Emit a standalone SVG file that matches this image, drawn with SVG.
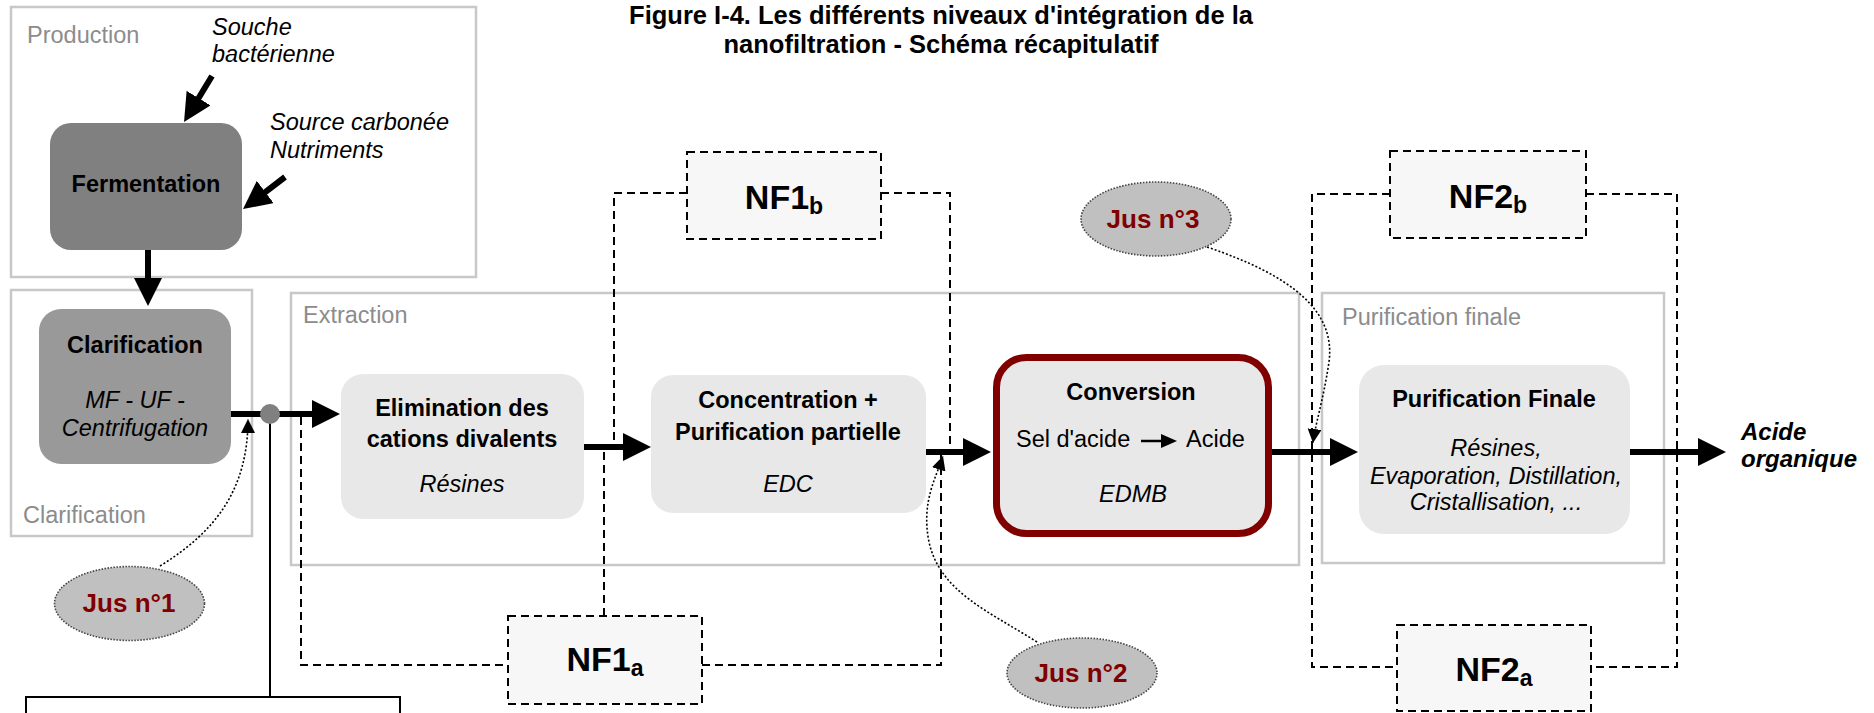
<svg xmlns="http://www.w3.org/2000/svg" width="1874" height="713" viewBox="0 0 1874 713">
<defs>
<style>
text{font-family:"Liberation Sans",Arial,sans-serif;fill:#000}
.t{font-size:23.5px}
.b{font-weight:bold}
.i{font-style:italic}
.lbl{font-size:23.5px;fill:#8c8c8c}
.frame{fill:#fff;stroke:#c8c8c8;stroke-width:2.5}
.box{fill:#e8e8e8}
.nf{fill:#f7f7f7;stroke:#000;stroke-width:2;stroke-dasharray:8 5}
.nft{font-size:34px;font-weight:bold}
.dash{fill:none;stroke:#000;stroke-width:2;stroke-dasharray:8 5}
.flow{fill:none;stroke:#000;stroke-width:6}
.dot{fill:none;stroke:#000;stroke-width:1.6;stroke-dasharray:2 2}
.jus{fill:#c0c0c0;stroke:#444;stroke-width:1.6;stroke-dasharray:1.5 1.5}
.jt{font-size:26px;font-weight:bold;fill:#800000}
.ttl{font-size:25.5px;font-weight:bold}
</style>
<marker id="ah" markerUnits="userSpaceOnUse" markerWidth="28" markerHeight="28" refX="20" refY="14" orient="auto"><path d="M0,0 L28,14 L0,28 z" fill="#000"/></marker>
<marker id="sh" markerUnits="userSpaceOnUse" markerWidth="14" markerHeight="14" refX="14" refY="7" orient="auto"><path d="M0,0 L14,7 L0,14 z" fill="#000"/></marker>
<marker id="mh" markerUnits="userSpaceOnUse" markerWidth="16" markerHeight="14" refX="12" refY="7" orient="auto"><path d="M0,0 L16,7 L0,14 z" fill="#000"/></marker>
</defs>
<rect width="1874" height="713" fill="#fff"/>

<g id="title">
<text class="ttl" x="941" y="24" text-anchor="middle">Figure I-4. Les différents niveaux d'intégration de la</text>
<text class="ttl" x="941" y="52.5" text-anchor="middle">nanofiltration - Schéma récapitulatif</text>
</g>

<g id="frames">
<g id="frame-production"><rect class="frame" x="11" y="7" width="465" height="270"/><text class="lbl" x="27" y="43">Production</text></g>
<g id="frame-clarification"><rect class="frame" x="11" y="290" width="241" height="246"/><text class="lbl" x="23" y="523">Clarification</text></g>
<g id="frame-extraction"><rect class="frame" x="291" y="293" width="1008" height="272"/><text class="lbl" x="303" y="323">Extraction</text></g>
<g id="frame-purification"><rect class="frame" x="1322" y="293" width="342" height="270"/><text class="lbl" x="1342" y="325">Purification finale</text></g>
</g>

<g id="connectors">
<line class="flow" x1="212" y1="76" x2="188.2" y2="115.2" marker-end="url(#ah)"/>
<line class="flow" x1="285" y1="177" x2="249.4" y2="204.2" marker-end="url(#ah)"/>
<line class="flow" x1="148" y1="250" x2="148" y2="298" marker-end="url(#ah)"/>
<polyline class="dash" points="301,417 301,665 508,665"/>
<polyline class="dash" points="702,665 941,665 941,455"/>
<line class="dash" x1="604" y1="616" x2="604" y2="450"/>
<polyline class="dash" points="687,193 614,193 614,444"/>
<polyline class="dash" points="881,193 950,193 950,449"/>
<polyline class="dash" points="1390,194 1312,194 1312,667 1397,667"/>
<polyline class="dash" points="1586,194 1677,194 1677,667 1591,667"/>
<line class="flow" x1="231" y1="414" x2="332" y2="414" marker-end="url(#ah)"/>
<line class="flow" x1="584" y1="447" x2="643" y2="447" marker-end="url(#ah)"/>
<line class="flow" x1="926" y1="452" x2="983" y2="452" marker-end="url(#ah)"/>
<line class="flow" x1="1272" y1="452" x2="1350" y2="452" marker-end="url(#ah)"/>
<line class="flow" x1="1630" y1="452" x2="1718" y2="452" marker-end="url(#ah)"/>
<line x1="270" y1="414" x2="270" y2="697" stroke="#000" stroke-width="2"/>
<circle cx="270" cy="414" r="10" fill="#808080"/>
<path class="dot" d="M160,566 C215,532 248,490 248,419" marker-end="url(#sh)"/>
<path class="dot" d="M1037,642 C990,612 940,592 929,542 C921,502 936,478 943,456" marker-end="url(#sh)"/>
<path class="dot" d="M1207,247 C1290,275 1336,310 1329,362 C1323,402 1315,425 1313,443" marker-end="url(#sh)"/>
</g>

<g id="fermentation">
<rect x="50" y="123" width="192" height="127" rx="21" fill="#808080"/>
<text class="t b" x="146" y="192" text-anchor="middle">Fermentation</text>
</g>
<g id="input-souche">
<text class="t i" x="212" y="35">Souche</text>
<text class="t i" x="212" y="62">bactérienne</text>
</g>
<g id="input-source">
<text class="t i" x="270" y="130">Source carbonée</text>
<text class="t i" x="270" y="158">Nutriments</text>
</g>

<g id="clarification">
<rect x="39" y="309" width="192" height="155" rx="22" fill="#999999"/>
<text class="t b" x="135" y="353" text-anchor="middle">Clarification</text>
<text class="t i" x="135" y="408" text-anchor="middle">MF - UF -</text>
<text class="t i" x="135" y="436" text-anchor="middle">Centrifugation</text>
</g>

<g id="elimination">
<rect class="box" x="341" y="374" width="243" height="145" rx="22"/>
<text class="t b" x="462" y="416" text-anchor="middle">Elimination des</text>
<text class="t b" x="462" y="447" text-anchor="middle">cations divalents</text>
<text class="t i" x="462" y="492" text-anchor="middle">Résines</text>
</g>

<g id="concentration">
<rect class="box" x="651" y="375" width="275" height="138" rx="22"/>
<text class="t b" x="788" y="408" text-anchor="middle">Concentration +</text>
<text class="t b" x="788" y="440" text-anchor="middle">Purification partielle</text>
<text class="t i" x="788" y="492" text-anchor="middle">EDC</text>
</g>

<g id="conversion">
<rect x="996.5" y="357.5" width="272" height="176" rx="30" fill="#e8e8e8" stroke="#800000" stroke-width="7"/>
<text class="t b" x="1131" y="400" text-anchor="middle">Conversion</text>
<text class="t" x="1016" y="447">Sel d'acide</text>
<line x1="1141" y1="441" x2="1173" y2="441" stroke="#000" stroke-width="2.5" marker-end="url(#mh)"/>
<text class="t" x="1186" y="447">Acide</text>
<text class="t i" x="1133" y="502" text-anchor="middle">EDMB</text>
</g>

<g id="purification">
<rect class="box" x="1359" y="365" width="271" height="169" rx="25"/>
<text class="t b" x="1494" y="407" text-anchor="middle">Purification Finale</text>
<text class="t i" x="1496" y="456" text-anchor="middle">Résines,</text>
<text class="t i" x="1496" y="484" text-anchor="middle">Evaporation, Distillation,</text>
<text class="t i" x="1496" y="510" text-anchor="middle">Cristallisation, ...</text>
</g>

<g id="output">
<text class="b i" font-size="24" x="1741" y="440">Acide</text>
<text class="b i" font-size="24" x="1741" y="467">organique</text>
</g>

<g id="nf1b"><rect class="nf" x="687" y="152" width="194" height="87"/><text class="nft" x="784" y="209" text-anchor="middle">NF1<tspan font-size="23" dy="5">b</tspan></text></g>
<g id="nf1a"><rect class="nf" x="508" y="616" width="194" height="88"/><text class="nft" x="605" y="671" text-anchor="middle">NF1<tspan font-size="23" dy="5">a</tspan></text></g>
<g id="nf2b"><rect class="nf" x="1390" y="151" width="196" height="87"/><text class="nft" x="1488" y="208" text-anchor="middle">NF2<tspan font-size="23" dy="5">b</tspan></text></g>
<g id="nf2a"><rect class="nf" x="1397" y="625" width="194" height="86"/><text class="nft" x="1494" y="681" text-anchor="middle">NF2<tspan font-size="23" dy="5">a</tspan></text></g>

<g id="jus1"><ellipse class="jus" cx="129.5" cy="603.5" rx="75" ry="37"/><text class="jt" x="129" y="612" text-anchor="middle">Jus n°1</text></g>
<g id="jus2"><ellipse class="jus" cx="1082" cy="673" rx="75" ry="35"/><text class="jt" x="1081" y="682" text-anchor="middle">Jus n°2</text></g>
<g id="jus3"><ellipse class="jus" cx="1156" cy="219" rx="75" ry="37"/><text class="jt" x="1153" y="228" text-anchor="middle">Jus n°3</text></g>

<g id="sample-box"><rect x="26" y="697" width="374" height="40" fill="#fff" stroke="#000" stroke-width="2"/></g>
</svg>
